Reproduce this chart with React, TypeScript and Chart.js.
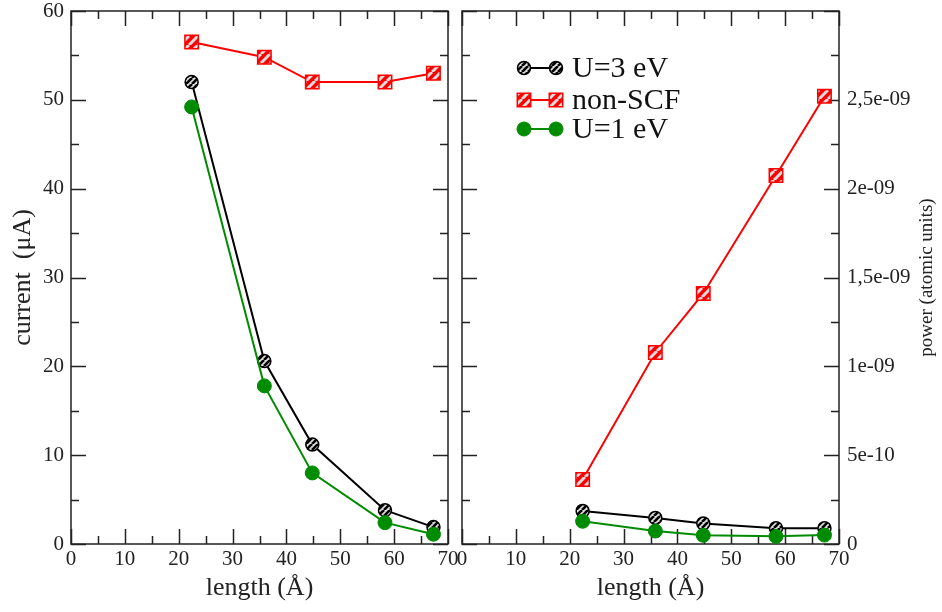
import React, { useEffect, useRef } from 'react';
import { Chart, registerables } from 'chart.js';

Chart.register(...registerables);

// ---------- data ----------
const lengths = [22.4, 35.9, 44.8, 58.3, 67.3];
const currentU3 = [52.0, 20.6, 11.2, 3.8, 1.9];
const currentNonSCF = [56.5, 54.8, 52.0, 52.0, 53.0];
const currentU1 = [49.2, 17.8, 8.0, 2.4, 1.1];
const powerU3 = [1.86e-10, 1.47e-10, 1.16e-10, 0.89e-10, 0.89e-10];
const powerNonSCF = [3.63e-10, 1.078e-9, 1.41e-9, 2.074e-9, 2.52e-9];
const powerU1 = [1.28e-10, 0.73e-10, 0.49e-10, 0.43e-10, 0.5e-10];
const seriesLabels = ['U=3 eV', 'non-SCF', 'U=1 eV'];
const xTickLabels = ['0', '10', '20', '30', '40', '50', '60', '70'];
const currentTickLabels = ['0', '10', '20', '30', '40', '50', '60'];
const powerTickLabels = ['0', '5e-10', '1e-09', '1,5e-09', '2e-09', '2,5e-09'];
const xTitle = 'length (Å)';
const leftYTitle = 'current  (μA)';
const rightYTitle = 'power (atomic units)';

const FONT = "'Liberation Serif', 'Times New Roman', serif";
const INK = '#222';
const RED = '#ff0000';
const GREEN = '#008c00';

function makeStripes(base: string, stripe: string, period: number, w: number) {
  const c = document.createElement('canvas');
  c.width = period;
  c.height = period;
  const g = c.getContext('2d')!;
  g.fillStyle = base;
  g.fillRect(0, 0, period, period);
  g.strokeStyle = stripe;
  g.lineWidth = w;
  for (const o of [-period, 0, period]) {
    g.beginPath();
    g.moveTo(o, period);
    g.lineTo(o + period, 0);
    g.stroke();
  }
  return g.createPattern(c, 'repeat')!;
}

const isMajor = (v: number, major: number) =>
  Math.abs(v / major - Math.round(v / major)) < 1e-6;

const frameTicks = {
  id: 'frameTicks',
  beforeDatasetsDraw(chart: any, _args: any, opts: any) {
    const { ctx, chartArea: a, scales } = chart;
    ctx.save();
    ctx.strokeStyle = INK;
    ctx.lineWidth = 1.5;
    ctx.strokeRect(a.left, a.top, a.right - a.left, a.bottom - a.top);
    ctx.beginPath();
    const xs = scales.x;
    for (const t of xs.ticks) {
      const p = Math.round(xs.getPixelForValue(t.value)) + 0.5;
      const L = isMajor(t.value, opts.xMajor) ? 15 : 8;
      ctx.moveTo(p, a.bottom);
      ctx.lineTo(p, a.bottom - L);
      ctx.moveTo(p, a.top);
      ctx.lineTo(p, a.top + L);
    }
    const ys = scales.y;
    for (const t of ys.ticks) {
      const p = Math.round(ys.getPixelForValue(t.value)) + 0.5;
      const L = isMajor(t.value, opts.yMajor) ? 15 : 8;
      ctx.moveTo(a.left, p);
      ctx.lineTo(a.left + L, p);
      ctx.moveTo(a.right, p);
      ctx.lineTo(a.right - L, p);
    }
    ctx.stroke();
    ctx.restore();
  },
};

function drawMarker(ctx: CanvasRenderingContext2D, ds: any, x: number, y: number) {
  ctx.save();
  ctx.fillStyle = ds.pointBackgroundColor;
  ctx.strokeStyle = ds.pointBorderColor;
  ctx.lineWidth = ds.pointBorderWidth;
  ctx.beginPath();
  if (ds.pointStyle === 'rect') {
    const s = Math.SQRT1_2 * ds.pointRadius;
    ctx.rect(x - s, y - s, 2 * s, 2 * s);
  } else {
    ctx.arc(x, y, ds.pointRadius, 0, Math.PI * 2);
  }
  ctx.fill();
  ctx.stroke();
  ctx.restore();
}

const insideLegend = {
  id: 'insideLegend',
  afterDatasetsDraw(chart: any, _args: any, opts: any) {
    if (!opts || !opts.show) return;
    const { ctx, chartArea: a } = chart;
    const rows = [57, 89, 118];
    const ds = chart.data.datasets;
    ctx.save();
    ds.forEach((d: any, i: number) => {
      const y = a.top + rows[i];
      const x1 = a.left + 62;
      const x2 = a.left + 94;
      ctx.strokeStyle = d.borderColor;
      ctx.lineWidth = d.borderWidth;
      ctx.beginPath();
      ctx.moveTo(x1, y);
      ctx.lineTo(x2, y);
      ctx.stroke();
      drawMarker(ctx, d, x1, y);
      drawMarker(ctx, d, x2, y);
      ctx.fillStyle = '#111';
      ctx.font = `30px ${FONT}`;
      ctx.textAlign = 'left';
      ctx.textBaseline = 'middle';
      ctx.fillText(d.label, a.left + 110, y + 1);
    });
    ctx.restore();
  },
};

const rightTitlePlugin = {
  id: 'rightTitle',
  afterDraw(chart: any, _args: any, opts: any) {
    if (!opts || !opts.text) return;
    const { ctx, chartArea: a } = chart;
    ctx.save();
    ctx.translate(927, (a.top + a.bottom) / 2);
    ctx.rotate(-Math.PI / 2);
    ctx.fillStyle = INK;
    ctx.font = `19px ${FONT}`;
    ctx.textAlign = 'center';
    ctx.textBaseline = 'middle';
    ctx.fillText(opts.text, 0, 0);
    ctx.restore();
  },
};

function makeDatasets(u3: number[], ns: number[], u1: number[], pats: any) {
  const pts = (arr: number[]) => lengths.map((x, i) => ({ x, y: arr[i] }));
  return [
    {
      label: seriesLabels[0],
      data: pts(u3),
      borderColor: '#000',
      borderWidth: 2,
      pointStyle: 'circle',
      pointRadius: 6.5,
      pointBackgroundColor: pats.black,
      pointBorderColor: '#000',
      pointBorderWidth: 1.5,
      order: 2,
    },
    {
      label: seriesLabels[1],
      data: pts(ns),
      borderColor: RED,
      borderWidth: 2,
      pointStyle: 'rect',
      pointRadius: 9.5,
      pointBackgroundColor: pats.red,
      pointBorderColor: RED,
      pointBorderWidth: 1.5,
      order: 1,
    },
    {
      label: seriesLabels[2],
      data: pts(u1),
      borderColor: GREEN,
      borderWidth: 2,
      pointStyle: 'circle',
      pointRadius: 7,
      pointBackgroundColor: GREEN,
      pointBorderColor: GREEN,
      pointBorderWidth: 1,
      order: 0,
    },
  ];
}

function xScale() {
  return {
    type: 'linear',
    position: 'bottom',
    min: 0,
    max: 70,
    grid: { display: false, drawTicks: false, tickLength: 0 },
    border: { display: false },
    ticks: {
      stepSize: 5,
      autoSkip: false,
      maxRotation: 0,
      padding: 3,
      color: INK,
      font: { family: FONT, size: 21 },
      callback: (v: number) => (isMajor(v, 10) ? xTickLabels[Math.round(v / 10)] : ''),
    },
    title: {
      display: true,
      text: xTitle,
      color: INK,
      font: { family: FONT, size: 26 },
      padding: { top: 0, bottom: 8 },
    },
    afterFit: (s: any) => {
      s.height = 68;
      s.paddingLeft = 0;
      s.paddingRight = 0;
      s.paddingTop = 0;
      s.paddingBottom = 0;
    },
  };
}

export default function App() {
  const leftRef = useRef<HTMLCanvasElement>(null);
  const rightRef = useRef<HTMLCanvasElement>(null);

  useEffect(() => {
    const pats = {
      black: makeStripes('#dcdcdc', '#000', 6, 2.6),
      red: makeStripes(RED, '#dddddd', 9, 3),
    };
    const zeroPad = (s: any) => {
      s.paddingLeft = 0;
      s.paddingRight = 0;
      s.paddingTop = 0;
      s.paddingBottom = 0;
    };
    const left = new Chart(leftRef.current!, {
      type: 'line',
      data: { datasets: makeDatasets(currentU3, currentNonSCF, currentU1, pats) as any },
      plugins: [frameTicks],
      options: {
        responsive: false,
        animation: false,
        devicePixelRatio: 1,
        layout: { padding: { left: 0, right: 494, top: 7, bottom: 0 } },
        plugins: {
          legend: { display: false },
          tooltip: { enabled: false },
          frameTicks: { xMajor: 10, yMajor: 10 },
        } as any,
        scales: {
          x: xScale() as any,
          y: {
            type: 'linear',
            position: 'left',
            min: 0,
            max: 60,
            grid: { display: false, drawTicks: false, tickLength: 0 },
            border: { display: false },
            ticks: {
              stepSize: 5,
              autoSkip: false,
              padding: 7,
              color: INK,
              font: { family: FONT, size: 21 },
              callback: (v: number) =>
                isMajor(v, 10) ? currentTickLabels[Math.round(v / 10)] : '',
            },
            title: {
              display: true,
              text: leftYTitle,
              color: INK,
              font: { family: FONT, size: 26 },
              padding: { top: 8, bottom: 0 },
            },
            afterFit: (s: any) => {
              s.width = 71;
              zeroPad(s);
            },
          } as any,
        },
      },
    });
    const right = new Chart(rightRef.current!, {
      type: 'line',
      data: { datasets: makeDatasets(powerU3, powerNonSCF, powerU1, pats) as any },
      plugins: [frameTicks, insideLegend, rightTitlePlugin],
      options: {
        responsive: false,
        animation: false,
        devicePixelRatio: 1,
        layout: { padding: { left: 462, right: 0, top: 7, bottom: 0 } },
        plugins: {
          legend: { display: false },
          tooltip: { enabled: false },
          frameTicks: { xMajor: 10, yMajor: 5e-10 },
          insideLegend: { show: true },
          rightTitle: { text: rightYTitle },
        } as any,
        scales: {
          x: xScale() as any,
          y: {
            type: 'linear',
            position: 'right',
            min: 0,
            max: 3e-9,
            grid: { display: false, drawTicks: false, tickLength: 0 },
            border: { display: false },
            ticks: {
              stepSize: 2.5e-10,
              autoSkip: false,
              padding: 8,
              color: INK,
              font: { family: FONT, size: 21 },
              callback: (v: number) => {
                const k = Math.round(v / 2.5e-10);
                return k % 2 === 0 && k / 2 < powerTickLabels.length ? powerTickLabels[k / 2] : '';
              },
            },
            afterFit: (s: any) => {
              s.width = 103;
              zeroPad(s);
            },
          } as any,
        },
      },
    });
    return () => {
      left.destroy();
      right.destroy();
    };
  }, []);

  const cs: React.CSSProperties = { position: 'absolute', left: 0, top: 0 };
  return (
    <div style={{ position: 'fixed', left: 0, top: 0, width: 942, height: 612, background: '#fff' }}>
      <canvas ref={leftRef} width={942} height={612} style={cs} />
      <canvas ref={rightRef} width={942} height={612} style={cs} />
    </div>
  );
}
